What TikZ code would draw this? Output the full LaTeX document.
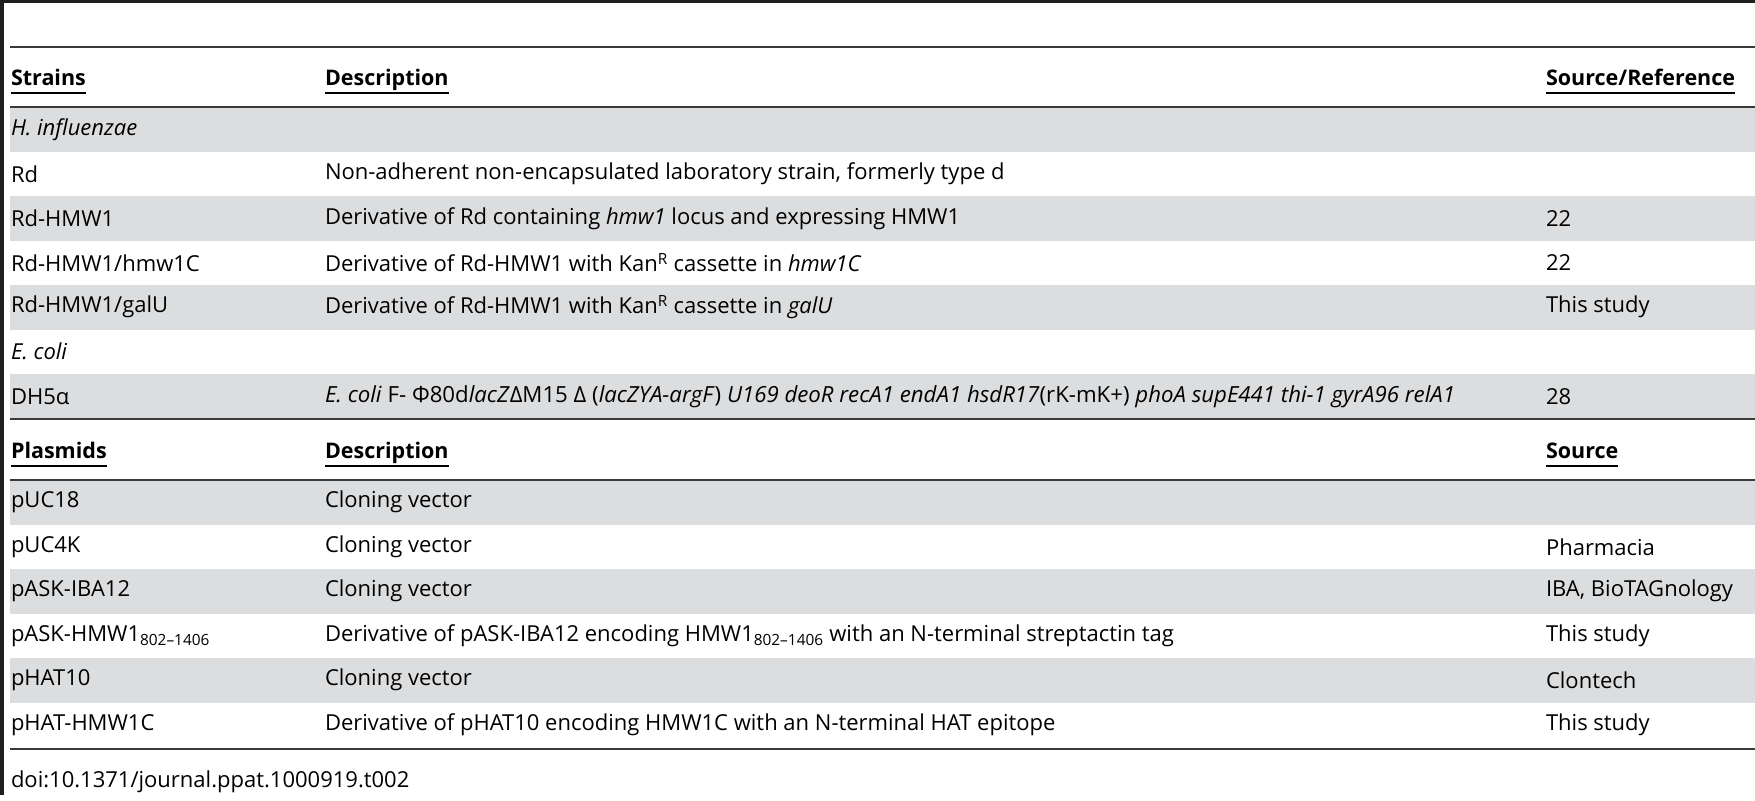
\documentclass[tikz,border=0pt]{standalone}
\usepackage{fontspec}
\setmainfont{Open Sans}
\begin{document}
\begin{tikzpicture}[x=1pt,y=-1pt,
  every node/.style={inner sep=0pt,outer sep=0pt,font=\fontsize{22}{26}\selectfont},
  cell/.style={anchor=west},
  head/.style={anchor=base west,font=\fontsize{21.5}{26}\selectfont\bfseries},
  band/.style={fill=bandgray,draw=none},
  rule/.style={draw=rulegray,line width=1.6pt}]
\definecolor{bandgray}{HTML}{DCDDDF}
\definecolor{rulegray}{HTML}{3A3A3A}
\useasboundingbox (0,0) rectangle (1755,800);
% frame bars
\fill[black!88] (0,0) rectangle (1755,3.5);
\fill[black!88] (0,0) rectangle (3.5,795);
\draw[rule] (10,47) -- (1755,47);
% bands
\foreach \y in {107,196,285,374,480,569,658}
  \fill[bandgray] (10,\y) rectangle (1755,\y+44.5);
\draw[rule] (10,107) -- (1755,107);
\draw[rule] (10,419) -- (1755,419);
\draw[rule] (10,480) -- (1755,480);
\draw[rule] (10,749) -- (1755,749);
% headers
\node[head] (hs) at (11,85) {Strains};
\node[head] (hd) at (325,85) {Description};
\node[head] (hr) at (1546,85) {Source/Reference};
\node[head] (hp) at (11,458) {Plasmids};
\node[head] (hd2) at (325,458) {Description};
\node[head] (hr2) at (1546,458) {Source};
\foreach \n/\yy in {hs/93,hd/93,hr/93,hp/466,hd2/466,hr2/466}
  \draw[line width=2.6pt] (\n.west |- 0,\yy) -- (\n.east |- 0,\yy);
% strain rows
\node[cell] (s0) at (11,129.25) {\textit{H. influenzae}};
\node[cell] (s1) at (11,173.75) {Rd};
\node[cell] (d1) at (325,173.75) {Non-adherent non-encapsulated laboratory strain, formerly type d};
\node[cell] (s2) at (11,218.25) {Rd-HMW1};
\node[cell] (d2) at (325,218.25) {Derivative of Rd containing \textit{hmw1} locus and expressing HMW1};
\node[cell] (r2) at (1546,218.25) {22};
\node[cell] (s3) at (11,262.75) {Rd-HMW1/hmw1C};
\node[cell] (d3) at (325,262.75) {Derivative of Rd-HMW1 with Kan\textsuperscript{R} cassette in \textit{hmw1C}};
\node[cell] (r3) at (1546,262.75) {22};
\node[cell] (s4) at (11,307.25) {Rd-HMW1/galU};
\node[cell] (d4) at (325,307.25) {Derivative of Rd-HMW1 with Kan\textsuperscript{R} cassette in \textit{galU}};
\node[cell] (r4) at (1546,307.25) {This study};
\node[cell] (s5) at (11,351.75) {\textit{E. coli}};
\node[cell] (s6) at (11,396.25) {DH5α};
\node[cell] (d6) at (325,396.25) {\resizebox{1130pt}{!}{\textit{E. coli} F- Φ80d\textit{lacZ}ΔM15 Δ (\textit{lacZYA-argF}) \textit{U169 deoR recA1 endA1 hsdR17}(rK-mK+) \textit{phoA supE441 thi-1 gyrA96 relA1}}};
\node[cell] (r6) at (1546,396.25) {28};
% plasmid rows
\node[cell] (p0) at (11,502.25) {pUC18};
\node[cell] (q0) at (325,502.25) {Cloning vector};
\node[cell] (p1) at (11,546.75) {pUC4K};
\node[cell] (q1) at (325,546.75) {Cloning vector};
\node[cell] (o1) at (1546,546.75) {Pharmacia};
\node[cell] (p2) at (11,591.25) {pASK-IBA12};
\node[cell] (q2) at (325,591.25) {Cloning vector};
\node[cell] (o2) at (1546,591.25) {IBA, BioTAGnology};
\node[cell] (p3) at (11,635.75) {pASK-HMW1\textsubscript{802–1406}};
\node[cell] (q3) at (325,635.75) {Derivative of pASK-IBA12 encoding HMW1\textsubscript{802–1406} with an N-terminal streptactin tag};
\node[cell] (o3) at (1546,635.75) {This study};
\node[cell] (p4) at (11,680.25) {pHAT10};
\node[cell] (q4) at (325,680.25) {Cloning vector};
\node[cell] (o4) at (1546,680.25) {Clontech};
\node[cell] (p5) at (11,724.75) {pHAT-HMW1C};
\node[cell] (q5) at (325,724.75) {Derivative of pHAT10 encoding HMW1C with an N-terminal HAT epitope};
\node[cell] (o5) at (1546,724.75) {This study};
\node[anchor=base west] (doi) at (11,787) {doi:10.1371/journal.ppat.1000919.t002};
\end{tikzpicture}
\end{document}
